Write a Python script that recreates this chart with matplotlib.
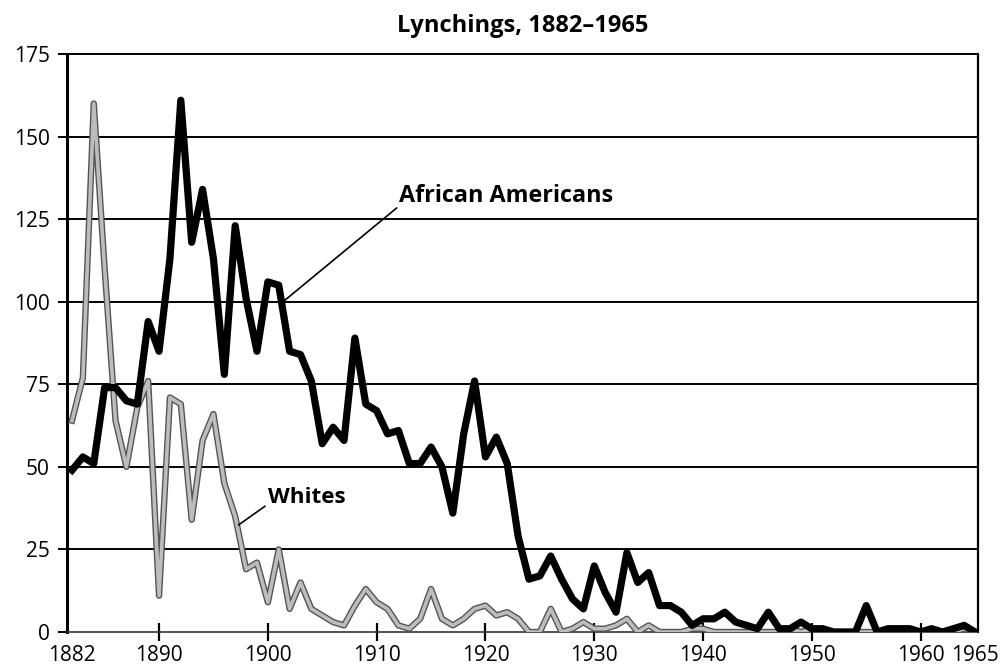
import matplotlib
matplotlib.use("Agg")
import matplotlib.pyplot as plt

years = list(range(1882, 1966))
african_americans = [49, 53, 51, 74, 74, 70, 69, 94, 85, 113,
                     161, 118, 134, 113, 78, 123, 101, 85, 106, 105,
                     85, 84, 76, 57, 62, 58, 89, 69, 67, 60,
                     61, 51, 51, 56, 50, 36, 60, 76, 53, 59,
                     51, 29, 16, 17, 23, 16, 10, 7, 20, 12,
                     6, 24, 15, 18, 8, 8, 6, 2, 4, 4,
                     6, 3, 2, 1, 6, 1, 1, 3, 1, 1,
                     0, 0, 0, 8, 0, 1, 1, 1, 0, 1,
                     0, 1, 2, 0]
whites = [64, 77, 160, 110, 64, 50, 68, 76, 11, 71,
          69, 34, 58, 66, 45, 35, 19, 21, 9, 25,
          7, 15, 7, 5, 3, 2, 8, 13, 9, 7,
          2, 1, 4, 13, 4, 2, 4, 7, 8, 5,
          6, 4, 0, 0, 7, 0, 1, 3, 1, 1,
          2, 4, 0, 2, 0, 0, 0, 1, 1, 0,
          0, 0, 0, 0, 0, 0, 1, 0, 1, 0,
          0, 0, 0, 0, 0, 0, 0, 0, 0, 0,
          0, 0, 1, 0]
major_ticks = [1890, 1900, 1910, 1920, 1930, 1940, 1950, 1960]
end_ticks = [1882, 1965]
y_ticks = [0, 25, 50, 75, 100, 125, 150, 175]
title = "Lynchings, 1882\u20131965"

plt.rcParams['font.family'] = ['Open Sans', 'DejaVu Sans']

fig = plt.figure(figsize=(10.08, 6.72), dpi=100)
ax = fig.add_axes([67/1008, 40/672, (978-67)/1008, (632-54)/672])

for y in y_ticks[1:]:
    ax.axhline(y, color='black', lw=1.4, zorder=1)

ax.plot(years, whites, color='#555555', lw=4.6, solid_joinstyle='round', zorder=3)
ax.plot(years, whites, color='#bdbdbd', lw=2.6, solid_joinstyle='round', zorder=3.1)
ax.plot(years, african_americans, color='black', lw=5.2, solid_joinstyle='round', zorder=4)

ax.set_xlim(1881.54, 1965.27)
ax.set_ylim(0, 175)

ax.set_xticks(major_ticks)
ax.set_xticklabels([str(t) for t in major_ticks])
ax.set_xticks(end_ticks, minor=True)
ax.set_xticklabels([str(t) for t in end_ticks], minor=True)
ax.tick_params(axis='x', which='major', direction='inout', length=13, width=1.6,
               labelsize=15, pad=3)
ax.tick_params(axis='x', which='minor', length=0, labelsize=15, pad=9.5)
ax.set_yticks(y_ticks)
ax.set_yticklabels([str(t) for t in y_ticks])
ax.tick_params(axis='y', direction='out', length=6.5, width=1.4, labelsize=15, pad=6)

ax.spines['left'].set_linewidth(2.2)
ax.spines['right'].set_linewidth(1.6)
ax.spines['top'].set_linewidth(1.4)
ax.spines['bottom'].set_linewidth(1.2)
ax.spines['bottom'].set_color('#333333')

ax.set_title(title, fontsize=17, fontweight='bold', pad=16)

ax.annotate("African Americans", xy=(1901.4, 100), xytext=(1912.1, 132),
            fontsize=16.8, fontweight='bold', va='center', ha='left',
            arrowprops=dict(arrowstyle='-', color='black', lw=1.2,
                            shrinkA=0, shrinkB=0, relpos=(0, 0.1)), zorder=6)
ax.annotate("Whites", xy=(1897.3, 32.4), xytext=(1900.0, 40.6),
            fontsize=16.2, fontweight='bold', va='center', ha='left',
            arrowprops=dict(arrowstyle='-', color='black', lw=1.2,
                            shrinkA=0, shrinkB=0, relpos=(0, 0.2)), zorder=6)

fig.savefig("out.png", dpi=100)
